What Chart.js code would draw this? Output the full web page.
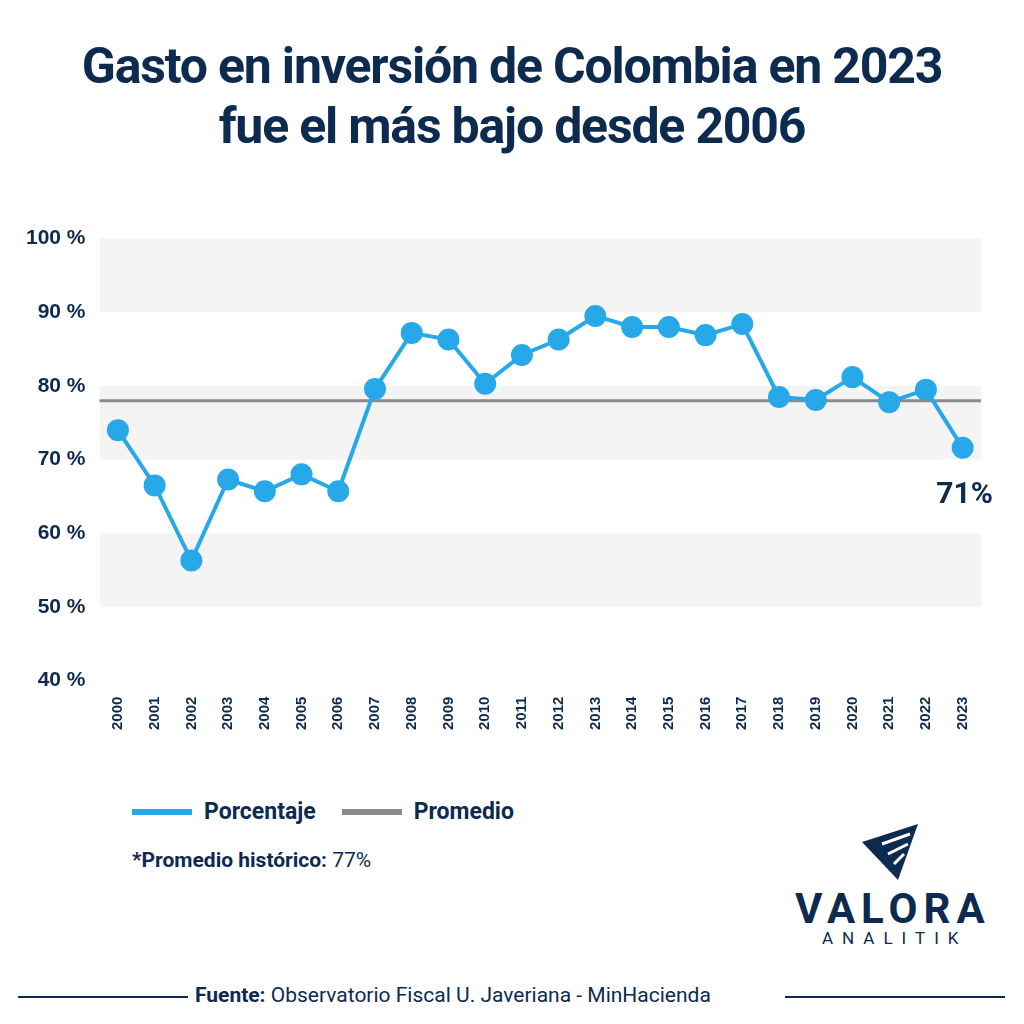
<!DOCTYPE html>
<html><head><meta charset="utf-8">
<script src="https://cdn.jsdelivr.net/npm/chart.js@4"></script>
<style>
body{margin:0;width:1024px;height:1024px;background:#fff;font-family:Roboto,sans-serif;color:#0d2a4f;position:relative;overflow:hidden}
#title{position:absolute;top:36px;left:0;width:1024px;text-align:center;font-size:50px;font-weight:700;line-height:60px;letter-spacing:-1.2px}
#wrap{position:absolute;left:0;top:220px;width:994px;height:518px}
.abs{position:absolute}
</style></head><body>
<div id="title">Gasto en inversión de Colombia en 2023<br>fue el más bajo desde 2006</div>
<div id="wrap"><canvas id="c"></canvas></div>
<div class="abs" style="left:132px;top:798px;font-size:23px;font-weight:700;display:flex;align-items:center">
 <span style="display:inline-block;width:60px;height:6px;background:#27a8e8;margin-right:12px"></span>Porcentaje
 <span style="display:inline-block;width:60px;height:6px;background:#8a8a8a;margin:0 12px 0 26px"></span>Promedio</div>
<div class="abs" style="left:132px;top:848px;font-size:21px"><b>*Promedio histórico:</b> 77%</div>
<svg class="abs" style="left:860px;top:822px" width="60" height="60" viewBox="0 0 60 60"><polygon points="58,2 2,20 38,58" fill="#0d2a4f"/><path d="M22,22 L50,12 M28,32 L48,22 M34,42 L44,32" stroke="#fff" stroke-width="3"/></svg>
<div class="abs" style="left:795px;top:884px;font-size:42px;font-weight:700;letter-spacing:6px">VALORA</div>
<div class="abs" style="left:822px;top:928px;font-size:17px;letter-spacing:9px">ANALITIK</div>
<div class="abs" style="left:18px;top:996px;width:170px;height:2px;background:#0d2a4f"></div>
<div class="abs" style="left:785px;top:996px;width:220px;height:2px;background:#0d2a4f"></div>
<div class="abs" style="left:195px;top:983px;font-size:21px"><b>Fuente:</b> Observatorio Fiscal U. Javeriana - MinHacienda</div>
<script>
const years = ['2000','2001','2002','2003','2004','2005','2006','2007','2008','2009','2010','2011','2012','2013','2014','2015','2016','2017','2018','2019','2020','2021','2022','2023'];
const porcentaje = [74, 66.5, 56.3, 67.3, 65.7, 68, 65.7, 79.6, 87.2, 86.3, 80.3, 84.2, 86.3, 89.5, 88, 88, 86.9, 88.4, 78.5, 78.1, 81.2, 77.8, 79.5, 71.6];
const promedio = 78;
const lastLabel = '71%';
const navy = '#0d2a4f';

const deco = {
  id: 'deco',
  beforeDatasetsDraw(chart) {
    const {ctx, chartArea: a, scales: {y}} = chart;
    ctx.save();
    ctx.fillStyle = '#f4f4f4';
    [[90,100],[70,80],[50,60]].forEach(([lo,hi]) => {
      ctx.fillRect(a.left, y.getPixelForValue(hi), a.right - a.left, y.getPixelForValue(lo) - y.getPixelForValue(hi));
    });
    ctx.strokeStyle = '#8a8a8a'; ctx.lineWidth = 3;
    ctx.beginPath();
    ctx.moveTo(a.left, y.getPixelForValue(promedio));
    ctx.lineTo(a.right, y.getPixelForValue(promedio));
    ctx.stroke();
    ctx.restore();
  },
  afterDatasetsDraw(chart) {
    const {ctx} = chart;
    const p = chart.getDatasetMeta(0).data[porcentaje.length - 1];
    ctx.save();
    ctx.fillStyle = navy; ctx.font = 'bold 30px Roboto'; ctx.textAlign = 'center';
    ctx.fillText(lastLabel, p.x + 2, p.y + 55);
    ctx.restore();
  }
};

new Chart(document.getElementById('c'), {
  type: 'line',
  data: {
    labels: years,
    datasets: [{
      label: 'Porcentaje', data: porcentaje,
      borderColor: '#27a8e8', backgroundColor: '#27a8e8',
      borderWidth: 4, pointRadius: 9, tension: 0
    }]
  },
  options: {
    responsive: true, maintainAspectRatio: false, animation: false,
    layout: {padding: {top: 16, left: 20}},
    plugins: {legend: {display: false}, tooltip: {enabled: false}},
    scales: {
      x: {
        offset: true,
        grid: {display: false}, border: {display: false},
        ticks: {color: navy, font: {size: 15, weight: 'bold'}, maxRotation: 90, minRotation: 90, padding: 8}
      },
      y: {
        min: 40, max: 100,
        grid: {display: false}, border: {display: false},
        ticks: {stepSize: 10, color: navy, font: {size: 21, weight: 'bold'}, padding: 6, callback: v => v + ' %'}
      }
    }
  },
  plugins: [deco]
});
</script>
</body></html>
